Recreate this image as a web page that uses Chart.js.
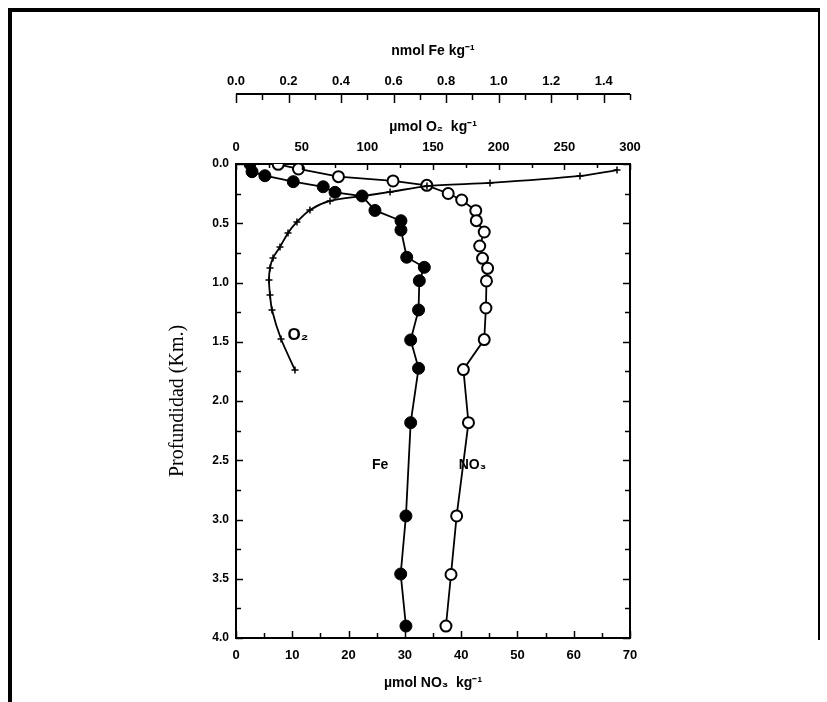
<!DOCTYPE html>
<html>
<head>
<meta charset="utf-8">
<script src="https://cdn.jsdelivr.net/npm/chart.js@4.4.1/dist/chart.umd.min.js"></script>
<style>
  html, body { margin: 0; padding: 0; background: #fff; }
  #wrap { width: 827px; height: 702px; }
</style>
</head>
<body>
<div id="wrap"><canvas id="c" width="827" height="702"></canvas></div>
<script>
// ---- Data (depth in km) ----
const feDepth = [0.0, 0.065, 0.099, 0.149, 0.192, 0.239, 0.270, 0.392, 0.479, 0.557, 0.787, 0.872, 0.985, 1.232, 1.485, 1.724, 2.183, 2.970, 3.460, 3.899];
const feValue = [0.053, 0.061, 0.110, 0.218, 0.332, 0.377, 0.480, 0.529, 0.628, 0.628, 0.650, 0.717, 0.698, 0.695, 0.665, 0.695, 0.665, 0.647, 0.627, 0.647];

const no3Depth = [0.003, 0.042, 0.107, 0.143, 0.180, 0.249, 0.304, 0.394, 0.478, 0.574, 0.692, 0.796, 0.880, 0.987, 1.215, 1.482, 1.735, 2.183, 2.970, 3.464, 3.899];
const no3Value = [7.5, 11.1, 18.2, 27.9, 33.9, 37.7, 40.1, 42.6, 42.7, 44.1, 43.3, 43.8, 44.7, 44.5, 44.4, 44.1, 40.4, 41.3, 39.2, 38.2, 37.3];

const o2Depth = [0.051, 0.101, 0.160, 0.186, 0.236, 0.270, 0.312, 0.388, 0.489, 0.582, 0.700, 0.793, 0.878, 0.979, 1.105, 1.232, 1.477, 1.738];
const o2Value = [290.1, 261.9, 193.4, 145.4, 117.3, 96.7, 71.6, 56.3, 46.4, 39.6, 33.5, 28.2, 25.9, 25.1, 25.9, 27.4, 34.3, 44.9];

// ---- Axis ranges / ticks ----
const depthRange = [0, 4];
const depthStep = 0.5;
const no3Range = [0, 70];
const no3Step = 10;
const o2Range = [0, 300];
const o2Step = 50;
const feRange = [0, 1.5];
const feStep = 0.2;

// ---- Text ----
const titleFe = 'nmol Fe kg\u207B\u00B9';
const titleO2 = '\u00B5mol O\u2082  kg\u207B\u00B9';
const titleNO3 = '\u00B5mol NO\u2083  kg\u207B\u00B9';
const titleDepth = 'Profundidad (Km.)';
const curveLabels = ['O\u2082', 'Fe', 'NO\u2083'];
const curveLabelNO3 = [11.0, 25.6, 42.0];
const curveLabelDepth = [1.443, 2.54, 2.54];

const toPts = (xs, ys) => xs.map((v, i) => ({ x: v, y: ys[i] }));

const SANS = '"Liberation Sans", Arial, sans-serif';
const SERIF = '"Liberation Serif", "Times New Roman", serif';

const frameAndTicks = {
  id: 'frameAndTicks',
  beforeDraw(chart) {
    const ctx = chart.ctx;
    ctx.save();
    ctx.fillStyle = '#fff';
    ctx.fillRect(0, 0, chart.width, chart.height);
    ctx.restore();
  },
  afterDraw(chart) {
    const ctx = chart.ctx;
    const a = chart.chartArea;
    const ys = chart.scales.y, xs = chart.scales.x, os = chart.scales.xO2, fs = chart.scales.xFe;
    ctx.save();
    ctx.strokeStyle = '#000';
    ctx.lineCap = 'butt';
    // right border of plot
    ctx.lineWidth = 2;
    ctx.beginPath(); ctx.moveTo(a.right, a.top - 1); ctx.lineTo(a.right, a.bottom + 1); ctx.stroke();
    ctx.lineWidth = 1.5;
    // left & right inward ticks
    for (let v = depthRange[0]; v <= depthRange[1] + 1e-9; v += 0.25) {
      const p = Math.round(ys.getPixelForValue(v)) + 0.5;
      const major = Math.abs(v / 0.5 - Math.round(v / 0.5)) < 1e-6;
      const L = major ? 7 : 5;
      ctx.beginPath(); ctx.moveTo(a.left, p); ctx.lineTo(a.left + L, p); ctx.stroke();
      ctx.beginPath(); ctx.moveTo(a.right, p); ctx.lineTo(a.right - L, p); ctx.stroke();
    }
    // bottom inward ticks (NO3)
    for (let v = no3Range[0]; v <= no3Range[1] + 1e-9; v += 5) {
      const p = Math.round(xs.getPixelForValue(v)) + 0.5;
      const L = (v % 10 === 0) ? 7 : 5;
      ctx.beginPath(); ctx.moveTo(p, a.bottom); ctx.lineTo(p, a.bottom - L); ctx.stroke();
    }
    // top inward ticks (O2)
    for (let v = o2Range[0]; v <= o2Range[1] + 1e-9; v += 25) {
      const p = Math.round(os.getPixelForValue(v)) + 0.5;
      const L = (v % 50 === 0) ? 6 : 4;
      ctx.beginPath(); ctx.moveTo(p, a.top); ctx.lineTo(p, a.top + L); ctx.stroke();
    }
    // Fe axis line with downward ticks
    const fy = fs.bottom - 11;
    ctx.lineWidth = 2;
    ctx.beginPath(); ctx.moveTo(fs.left, fy); ctx.lineTo(fs.right, fy); ctx.stroke();
    ctx.lineWidth = 1.5;
    for (let k = 0; k <= 15; k++) {
      const v = k * 0.1;
      const p = Math.round(fs.getPixelForValue(v)) + 0.5;
      const L = (k % 2 === 0) ? 9 : 6;
      ctx.beginPath(); ctx.moveTo(p, fy); ctx.lineTo(p, fy + L); ctx.stroke();
    }
    // curve labels
    ctx.fillStyle = '#000';
    ctx.textAlign = 'center';
    ctx.textBaseline = 'middle';
    curveLabels.forEach((t, i) => {
      ctx.font = (i === 0 ? 'bold 17px ' : 'bold 14px ') + SANS;
      ctx.fillText(t, xs.getPixelForValue(curveLabelNO3[i]), ys.getPixelForValue(curveLabelDepth[i]));
    });
    // outer frame
    ctx.lineWidth = 4;
    ctx.beginPath(); ctx.moveTo(10, 702); ctx.lineTo(10, 10); ctx.lineTo(820, 10); ctx.stroke();
    ctx.lineWidth = 2;
    ctx.beginPath(); ctx.moveTo(819, 10); ctx.lineTo(819, 640); ctx.stroke();
    ctx.restore();
  }
};

const tickFont = { family: SANS, size: 13, weight: 'bold' };
const titleFont = { family: SANS, size: 14, weight: 'bold' };

new Chart(document.getElementById('c'), {
  type: 'scatter',
  data: {
    datasets: [
      {
        label: 'O2',
        data: toPts(o2Value, o2Depth),
        xAxisID: 'xO2', yAxisID: 'y',
        showLine: true, tension: 0.25,
        borderColor: '#000', borderWidth: 1.8,
        pointStyle: 'cross', pointRadius: 3.5, pointBorderWidth: 1.5,
        pointBackgroundColor: '#000', pointBorderColor: '#000'
      },
      {
        label: 'Fe',
        data: toPts(feValue, feDepth),
        xAxisID: 'xFe', yAxisID: 'y',
        showLine: true, tension: 0,
        borderColor: '#000', borderWidth: 1.8,
        pointStyle: 'circle', pointRadius: 6, pointBorderWidth: 1,
        pointBackgroundColor: '#000', pointBorderColor: '#000'
      },
      {
        label: 'NO3',
        data: toPts(no3Value, no3Depth),
        xAxisID: 'x', yAxisID: 'y',
        showLine: true, tension: 0,
        borderColor: '#000', borderWidth: 1.8,
        pointStyle: 'circle', pointRadius: 5.5, pointBorderWidth: 2,
        pointBackgroundColor: '#fff', pointBorderColor: '#000'
      }
    ]
  },
  options: {
    responsive: false,
    animation: false,
    layout: { padding: { left: 162, right: 197, top: 35, bottom: 0 } },
    plugins: { legend: { display: false }, tooltip: { enabled: false } },
    scales: {
      y: {
        type: 'linear', position: 'left', reverse: true,
        min: depthRange[0], max: depthRange[1],
        grid: { display: false, drawTicks: false },
        border: { display: true, color: '#000', width: 2 },
        ticks: { stepSize: depthStep, color: '#000', font: { family: SANS, size: 12, weight: 'bold' }, padding: 7,
                 callback: v => Number(v).toFixed(1) },
        title: { display: true, text: titleDepth, color: '#000', font: { family: SERIF, size: 20 }, padding: { top: 4, bottom: 0 } },
        afterFit: s => { s.width = 74; }
      },
      x: {
        type: 'linear', position: 'bottom',
        min: no3Range[0], max: no3Range[1],
        grid: { display: false, drawTicks: false },
        border: { display: true, color: '#000', width: 2 },
        ticks: { stepSize: no3Step, color: '#000', font: tickFont, padding: 10, maxRotation: 0 },
        title: { display: true, text: titleNO3, color: '#000', font: titleFont, padding: { top: 0, bottom: 10 } },
        afterFit: s => { s.height = 64; }
      },
      xO2: {
        type: 'linear', position: 'top', weight: 0,
        min: o2Range[0], max: o2Range[1],
        grid: { display: false, drawTicks: false },
        border: { display: true, color: '#000', width: 2 },
        ticks: { stepSize: o2Step, color: '#000', font: tickFont, padding: 9, maxRotation: 0 },
        title: { display: true, text: titleO2, color: '#000', font: titleFont, padding: { top: 14, bottom: 0 } },
        afterFit: s => { s.height = 59; }
      },
      xFe: {
        type: 'linear', position: 'top', weight: 1,
        min: feRange[0], max: feRange[1],
        grid: { display: false, drawTicks: false },
        border: { display: false },
        ticks: { stepSize: feStep, includeBounds: false, color: '#000', font: tickFont, padding: 16, maxRotation: 0,
                 callback: v => Number(v).toFixed(1) },
        title: { display: true, text: titleFe, color: '#000', font: titleFont, padding: { top: 8, bottom: 0 } },
        afterFit: s => { s.height = 70; }
      }
    }
  },
  plugins: [frameAndTicks]
});
</script>
</body>
</html>
